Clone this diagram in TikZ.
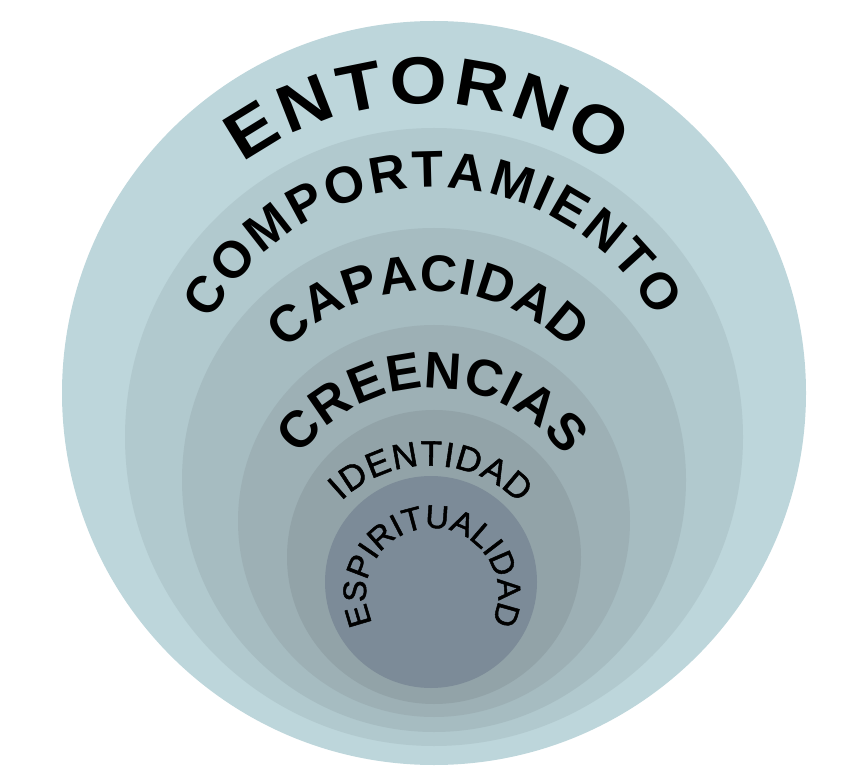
\documentclass[tikz,border=0pt]{standalone}
\usepackage{fontspec}
\setmainfont{Liberation Sans}
\newfontfamily\widesans[FakeStretch=1.1]{Liberation Sans}
\newfontfamily\heavysans[FakeBold=1.5]{Liberation Sans}
\usetikzlibrary{decorations.text}

\newcommand{\outerfont}{\widesans\bfseries\fontsize{38}{44}\selectfont}
\newcommand{\middlefont}{\bfseries\fontsize{29.3}{34}\selectfont}
\newcommand{\idfont}{\heavysans\fontsize{20}{24}\selectfont}
\newcommand{\corefont}{\heavysans\fontsize{18.5}{22}\selectfont}

\begin{document}
\begin{tikzpicture}[x=0.02cm, y=0.02cm,
    ringlabel/.style={decorate, decoration={text along path, text format delimiters={|}{|}, text align=fit to path, text={#1}}},
    corelabel/.style={decorate, decoration={text along path, text format delimiters={|}{|}, text align=center, text={#1}}}]

        \useasboundingbox (0,0) rectangle (865,768);

        % Draw Nested Circles
        \fill[color={rgb,255:red,189; green,214; blue,219}] (434,375) circle (372); % Entorno
        \fill[color={rgb,255:red,177; green,201; blue,206}] (434,331) circle (309); % Comportamiento
        \fill[color={rgb,255:red,166; green,188; blue,193}] (434,288) circle (252); % Capacidad
        \fill[color={rgb,255:red,157; green,176; blue,181}] (434,247) circle (196); % Creencias
        \fill[color={rgb,255:red,146; green,163; blue,168}] (434,211) circle (147); % Identidad
        \fill[color={rgb,255:red,124; green,139; blue,152}] (431,186) circle (106); % Espiritualidad

        % Labels along the rings
        \path[ringlabel={|\outerfont|ENTORNO}] (426,353) ++(126:311) arc[start angle=126, end angle=53.5, radius=311];
        \path[ringlabel={|\middlefont|COMPORTAMIENTO}] (434,328) ++(151.9:252.5) arc[start angle=151.9, end angle=28.9, radius=252.5];
        \path[ringlabel={|\middlefont|CAPACIDAD}] (428,276) ++(135:201) arc[start angle=135, end angle=44.8, radius=201];
        \path[ringlabel={|\middlefont|CREENCIAS}] (432,218) ++(144.6:162) arc[start angle=144.6, end angle=35.1, radius=162];
        \path[ringlabel={|\idfont|IDENTIDAD}] (429,176) ++(133.9:126.4) arc[start angle=133.9, end angle=44.3, radius=126.4];
        \path[corelabel={|\corefont|ESPIRITUALIDAD}] (432,174) ++(230:66) arc[start angle=230, end angle=-50, radius=66];

    \end{tikzpicture}
\end{document}
